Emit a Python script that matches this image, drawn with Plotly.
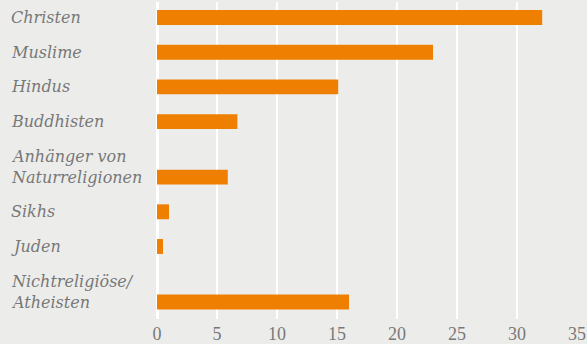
import plotly.graph_objects as go

categories = ["Christen", "Muslime", "Hindus", "Buddhisten",
              "Anhänger von<br>Naturreligionen", "Sikhs", "Juden",
              "Nichtreligiöse/<br>Atheisten"]
values = [32.1, 23.0, 15.1, 6.7, 5.9, 1.0, 0.5, 16.0]
tick_values = [0, 5, 10, 15, 20, 25, 30, 35]

BAR = "#ef7f00"
BG = "#ecedeb"
TXT = "#787878"
FONT = "Liberation Serif"
LABEL_FONT = "DejaVu Serif"
EXTRA_GAP = 0.6   # extra category spacing per additional label line
LINE_PX = 21

# category positions derived from label line counts
positions = []
p = 0.0
for i, c in enumerate(categories):
    n = c.count("<br>")
    if i > 0:
        p += 1 + EXTRA_GAP * n
    positions.append(p)

fig = go.Figure(go.Bar(
    x=values, y=positions, orientation="h",
    marker=dict(color=BAR, line=dict(width=0)),
    width=0.43, hoverinfo="skip",
))

annotations = []
for c, pos in zip(categories, positions):
    lines = c.split("<br>")
    for k, line in enumerate(reversed(lines)):
        annotations.append(dict(
            text=line, xref="paper", yref="y", x=0, y=pos,
            xshift=-148, yshift=k * LINE_PX, xanchor="left", yanchor="middle",
            showarrow=False,
            font=dict(family=LABEL_FONT, size=16, color=TXT, style="italic"),
        ))

fig.update_layout(
    width=587, height=344,
    margin=dict(l=157, r=10, t=2, b=25),
    paper_bgcolor=BG, plot_bgcolor=BG,
    showlegend=False,
    annotations=annotations,
    font=dict(family=FONT),
    xaxis=dict(range=[0, 35], tickvals=tick_values, showgrid=True,
               gridcolor="white", gridwidth=2, zeroline=True,
               zerolinecolor="white", zerolinewidth=2.5, showline=False,
               ticks="", ticklabelstandoff=2, automargin=False,
               tickfont=dict(family=FONT, size=18, color=TXT),
               fixedrange=True),
    yaxis=dict(range=[8.69, -0.447], showticklabels=False, showgrid=False,
               zeroline=False, showline=False, ticks="", fixedrange=True,
               automargin=False),
)

fig.write_html("out.html", config={"displayModeBar": False},
               post_script="document.body.style.margin='0';document.body.style.overflow='hidden';")
